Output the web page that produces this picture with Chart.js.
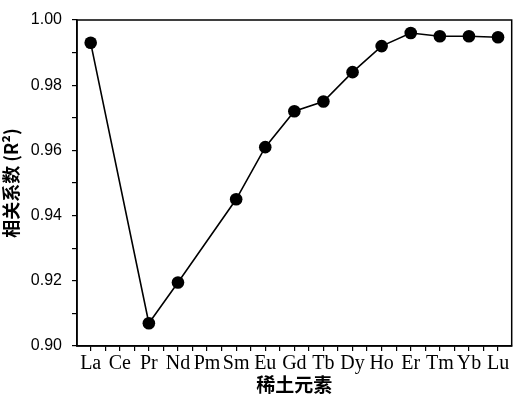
<!DOCTYPE html>
<html>
<head>
<meta charset="utf-8">
<script src="https://cdn.jsdelivr.net/npm/chart.js@4"></script>
<style>
  html, body { margin: 0; padding: 0; background: #fff; }
  #wrap { width: 518px; height: 399px; }
</style>
</head>
<body>
<div id="wrap"><canvas id="chart" width="518" height="399"></canvas></div>
<script>
// Rare earth elements on the x axis
const elements = ['La', 'Ce', 'Pr', 'Nd', 'Pm', 'Sm', 'Eu', 'Gd', 'Tb', 'Dy', 'Ho', 'Er', 'Tm', 'Yb', 'Lu'];
// Correlation coefficient R^2 (Ce and Pm not measured)
const r2Values = [0.993, null, 0.907, 0.9195, null, 0.945, 0.961, 0.972, 0.975, 0.984, 0.992, 0.996, 0.995, 0.995, 0.9947];
const yTicks = [0.90, 0.91, 0.92, 0.93, 0.94, 0.95, 0.96, 0.97, 0.98, 0.99, 1.00];
const yLabelTicks = ['0.90', '0.92', '0.94', '0.96', '0.98', '1.00'];

const points = elements.map((el, i) => ({ x: i, y: r2Values[i] }));

// Frame line on top and right side
const framePlugin = {
    id: 'frame',
    afterDraw(chart) {
        const a = chart.chartArea;
        const ctx = chart.ctx;
        ctx.save();
        ctx.strokeStyle = '#000';
        ctx.lineWidth = 1.5;
        ctx.strokeRect(a.left, a.top, a.right - a.left, a.bottom - a.top);
        ctx.restore();
    }
};

new Chart(document.getElementById('chart'), {
    type: 'line',
    data: {
        datasets: [{
            data: points,
            borderColor: '#000',
            backgroundColor: '#000',
            borderWidth: 1.6,
            pointRadius: 6.3,
            pointBackgroundColor: '#000',
            pointBorderWidth: 0,
            spanGaps: true,
            tension: 0
        }]
    },
    options: {
        responsive: false,
        animation: false,
        layout: { padding: { left: 0, right: 4, top: 20, bottom: 0 } },
        plugins: { legend: { display: false }, tooltip: { enabled: false } },
        scales: {
            x: {
                type: 'linear',
                min: -0.47,
                max: 14.47,
                afterFit(s) { s.height = 53; },
                afterBuildTicks(s) {
                    const t = [];
                    for (let i = 0; i <= 28; i++) t.push({ value: i / 2 });
                    s.ticks = t;
                },
                ticks: {
                    autoSkip: false,
                    maxRotation: 0,
                    padding: 1,
                    color: '#000',
                    font: { family: 'Liberation Serif', size: 20 },
                    callback: (v) => Number.isInteger(v) ? elements[v] : ''
                },
                grid: { drawOnChartArea: false, drawTicks: true, tickLength: 5, color: '#000', lineWidth: 1.2 },
                border: { color: '#000', width: 1.5 },
                title: {
                    display: true,
                    text: '稀土元素',
                    color: '#000',
                    font: { family: 'Noto Sans CJK SC', size: 19, weight: 'bold' },
                    padding: { top: 0, bottom: 3 }
                }
            },
            y: {
                min: 0.9,
                max: 1.0,
                afterFit(s) { s.width = 77; },
                afterBuildTicks(s) {
                    s.ticks = yTicks.map(v => ({ value: v }));
                },
                ticks: {
                    padding: 10,
                    color: '#000',
                    font: { family: 'Liberation Sans', size: 16 },
                    callback: (v, i) => i % 2 === 0 ? yLabelTicks[i / 2] : ''
                },
                grid: { drawOnChartArea: false, drawTicks: true, tickLength: 5, color: '#000', lineWidth: 1.2 },
                border: { color: '#000', width: 1.5 },
                title: {
                    display: true,
                    text: '相关系数 (R²)',
                    color: '#000',
                    font: { family: 'Noto Sans CJK SC', size: 18, weight: 'bold' },
                    padding: { top: 0, bottom: 4 }
                }
            }
        }
    },
    plugins: [framePlugin]
});
</script>
</body>
</html>
